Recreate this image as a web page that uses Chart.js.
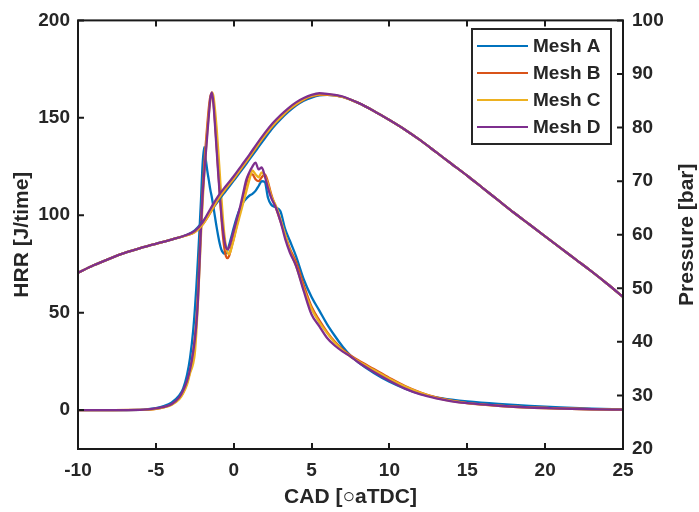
<!DOCTYPE html>
<html><head><meta charset="utf-8">
<script src="https://cdn.jsdelivr.net/npm/chart.js@4.4.0/dist/chart.umd.min.js"></script>
<style>html,body{margin:0;padding:0;background:#fff;}canvas{display:block;}</style>
</head><body>
<canvas id="c" width="699" height="512"></canvas>
<script>
const seriesNames = ['Mesh A', 'Mesh B', 'Mesh C', 'Mesh D'];
const seriesColors = ['#0072BD', '#D95319', '#EDB120', '#7E2F8E'];

const cadHRR = [-10,-8,-6,-5.5,-5,-4.5,-4,-3.5,-3.25,-3,-2.8,-2.6,-2.5,-2.4,-2.3,-2.2,-2.1,-2.0,-1.9,-1.8,-1.7,-1.6,-1.5,-1.4,-1.3,-1.2,-1.1,-1.0,-0.9,-0.8,-0.7,-0.6,-0.5,-0.4,-0.3,-0.2,-0.1,0,0.2,0.4,0.6,0.8,1.0,1.2,1.4,1.6,1.8,2.0,2.2,2.4,2.7,3.0,3.3,3.6,4.0,4.5,5,5.5,6,6.5,7,7.5,8,9,10,11,12,13,14,15,17,19,21,23,25];
const hrrA = [0,0,0.1,0.4,1.0,2.0,3.8,7.5,11,18,27,41,51,63,77,92,108,126,135,129,123,118,113,109,104,99,94,89.5,85.5,82.5,81,80.3,80.5,82,84.5,87.5,90.5,93.5,99,103.5,106.5,108.5,110,111,112.5,115,117.5,117,109,105.5,104,102,93,87,79,67,58,51,44,38,32.5,28,24.5,19,14.5,11,8.3,6.5,5.3,4.4,3.1,2.1,1.3,0.7,0.3];
const hrrB = [0,0,0.05,0.2,0.6,1.4,2.8,6,9,14,20,30,37,46,60,78,96,112,125,136,146,155,161,162.5,158,148,136,124,112,100,90,83,79,78,79,82,85,88,95,102,109,116,121,121,118.5,117.5,119.5,121,117,111,104,97,90,83,76,64,53,46,40,35,31,28,25.5,21,16.5,12.3,9,6.5,4.8,3.6,2.2,1.3,0.8,0.4,0.2];
const hrrC = [0,0,0.05,0.2,0.6,1.3,2.6,5.5,8.5,13,19,24,29,40,55,72,90,106,120,132,143,152,159,163,161,154,145,134,122,110,99,90,84,81,80,81.5,84.5,87.5,94,100,106,112,118,123,121,119.5,122,120,116,110,105,98,90,82,74,62,52,45,39.5,34.5,30.5,27.5,25,20.5,16,12,8.8,6.3,4.7,3.5,2.2,1.3,0.8,0.4,0.2];
const hrrD = [0,0,0.1,0.3,0.8,1.6,3,6.5,10,15,21,30,36,44,56,74,94,110,121,131,141,151,160,163,157,146,134,122,111,101,93,87,83.5,82.5,83.5,86,89,92,98,104,111,118,122,125,127,123.5,124.5,120,114,109,104,97,88,81,74,61,49,43,37,33,30,27.5,24.5,19.5,15,11,8,6,4.5,3.5,2.2,1.3,0.8,0.4,0.2];

const cadP = [-10,-9,-8,-7,-6,-5,-4,-3,-2.5,-2,-1.5,-1,-0.5,0,0.5,1,1.5,2,2.5,3,3.5,4,4.5,5,5.5,6,6.5,7,8,9,10,11,12,13,14,15,16,17,18,19,20,21,22,23,24,25];
const presA = [52.9,54.3,55.5,56.6,57.5,58.3,59.1,60.0,60.8,62.4,64.3,66.3,68.2,70.1,72.0,74.0,76.0,78.0,79.9,81.5,82.9,84.1,85.0,85.6,86.0,86.1,86.0,85.7,84.6,83.1,81.4,79.6,77.6,75.4,73.2,71.0,68.7,66.4,64.1,61.9,59.7,57.5,55.3,53.1,50.8,48.4];
const presB = [52.9,54.3,55.5,56.6,57.5,58.3,59.1,59.9,60.5,61.9,64.1,66.6,68.6,70.4,72.4,74.4,76.5,78.5,80.3,81.8,83.2,84.3,85.2,85.8,86.1,86.1,86.0,85.7,84.6,83.1,81.4,79.6,77.6,75.4,73.2,71.0,68.7,66.4,64.1,61.9,59.7,57.5,55.3,53.1,50.8,48.4];
const presC = [52.9,54.3,55.5,56.6,57.5,58.3,59.1,59.9,60.5,61.9,64.2,66.7,68.7,70.5,72.5,74.5,76.6,78.6,80.4,81.9,83.3,84.4,85.3,85.9,86.2,86.2,86.0,85.7,84.6,83.1,81.4,79.6,77.6,75.4,73.2,71.0,68.7,66.4,64.1,61.9,59.7,57.5,55.3,53.1,50.8,48.4];
const presD = [52.9,54.3,55.5,56.6,57.5,58.3,59.1,60.0,60.7,62.3,64.8,67.2,69.1,70.9,72.9,74.9,77.0,79.0,80.8,82.3,83.6,84.7,85.5,86.1,86.4,86.3,86.1,85.8,84.6,83.1,81.4,79.6,77.6,75.4,73.2,71.0,68.7,66.4,64.1,61.9,59.7,57.5,55.3,53.1,50.8,48.4];

const cadTicks = [-10, -5, 0, 5, 10, 15, 20, 25];
const hrrTicks = [0, 50, 100, 150, 200];
const presTicks = [20, 30, 40, 50, 60, 70, 80, 90, 100];

const xTitle = 'CAD [\u25CBaTDC]';
const yTitle = 'HRR [J/time]';
const y2Title = 'Pressure [bar]';

const TXT = '#262626';
const tickFont = {family: '"Liberation Sans", Arial, Helvetica, sans-serif', size: 19, weight: 'bold'};
const titleFontCss = 'bold 21px "Liberation Sans", Arial, Helvetica, sans-serif';
const legendFontCss = 'bold 19px "Liberation Sans", Arial, Helvetica, sans-serif';

const hrrSets = [hrrA, hrrB, hrrC, hrrD];
const presSets = [presA, presB, presC, presD];
const datasets = [];
hrrSets.forEach((ys, i) => {
  datasets.push({
    label: seriesNames[i], yAxisID: 'y', borderColor: seriesColors[i],
    data: cadHRR.map((x, k) => ({x: x, y: ys[k]})), order: 7 - i
  });
});
presSets.forEach((ys, i) => {
  datasets.push({
    label: seriesNames[i] + ' p', yAxisID: 'y1', borderColor: seriesColors[i],
    data: cadP.map((x, k) => ({x: x, y: ys[k]})), order: 3 - i
  });
});

const framePlugin = {
  id: 'frame',
  afterDraw(chart) {
    const ctx = chart.ctx;
    const a = chart.chartArea;
    const sx = chart.scales.x, sy = chart.scales.y, sy1 = chart.scales.y1;
    const TL = 6;
    ctx.save();
    ctx.strokeStyle = '#1a1a1a';
    ctx.lineWidth = 2;
    ctx.beginPath();
    cadTicks.forEach(v => {
      const px = Math.round(sx.getPixelForValue(v));
      ctx.moveTo(px, a.bottom); ctx.lineTo(px, a.bottom - TL);
      ctx.moveTo(px, a.top); ctx.lineTo(px, a.top + TL);
    });
    hrrTicks.forEach(v => {
      const py = sy.getPixelForValue(v);
      ctx.moveTo(a.left, py); ctx.lineTo(a.left + TL, py);
    });
    presTicks.forEach(v => {
      const py = sy1.getPixelForValue(v);
      ctx.moveTo(a.right, py); ctx.lineTo(a.right - TL, py);
    });
    ctx.stroke();
    ctx.strokeRect(a.left, a.top, a.right - a.left, a.bottom - a.top);

    ctx.fillStyle = TXT;
    ctx.font = titleFontCss;
    ctx.textAlign = 'center';
    ctx.textBaseline = 'middle';
    ctx.fillText(xTitle, (a.left + a.right) / 2, 497);
    const cy = (a.top + a.bottom) / 2;
    ctx.save(); ctx.translate(22, cy); ctx.rotate(-Math.PI / 2); ctx.fillText(yTitle, 0, 0); ctx.restore();
    ctx.save(); ctx.translate(687, cy); ctx.rotate(-Math.PI / 2); ctx.fillText(y2Title, 0, 0); ctx.restore();

    const bx = 472, by = 29, bw = 139, bh = 115;
    ctx.fillStyle = '#ffffff';
    ctx.fillRect(bx, by, bw, bh);
    ctx.strokeStyle = '#262626';
    ctx.lineWidth = 2;
    ctx.strokeRect(bx, by, bw, bh);
    ctx.font = legendFontCss;
    ctx.textAlign = 'left';
    ctx.textBaseline = 'middle';
    seriesNames.forEach((name, i) => {
      const ry = 46 + i * 27;
      ctx.strokeStyle = seriesColors[i];
      ctx.lineWidth = 2;
      ctx.beginPath(); ctx.moveTo(477, ry); ctx.lineTo(528, ry); ctx.stroke();
      ctx.fillStyle = TXT;
      ctx.fillText(name, 533, ry + 1);
    });
    ctx.restore();
  }
};

new Chart(document.getElementById('c'), {
  type: 'line',
  data: {datasets: datasets},
  options: {
    responsive: false, animation: false, devicePixelRatio: 1,
    layout: {padding: {top: 16, left: 0, right: 0, bottom: 0}},
    elements: {
      point: {radius: 0},
      line: {borderWidth: 2.3, fill: false, cubicInterpolationMode: 'monotone'}
    },
    plugins: {legend: {display: false}, tooltip: {enabled: false}},
    scales: {
      x: {
        type: 'linear', min: -10, max: 25,
        afterBuildTicks: s => { s.ticks = cadTicks.map(v => ({value: v})); },
        afterFit: s => { s.height = 63; },
        grid: {display: false, drawTicks: false}, border: {display: false},
        ticks: {font: tickFont, color: TXT, padding: 10, maxRotation: 0, autoSkip: false, callback: v => String(v)}
      },
      y: {
        type: 'linear', position: 'left', min: -20, max: 200,
        afterBuildTicks: s => { s.ticks = hrrTicks.map(v => ({value: v})); },
        afterFit: s => { s.width = 78; },
        grid: {display: false, drawTicks: false}, border: {display: false},
        ticks: {font: tickFont, color: TXT, padding: 8, callback: v => String(v)}
      },
      y1: {
        type: 'linear', position: 'right', min: 20, max: 100,
        afterBuildTicks: s => { s.ticks = presTicks.map(v => ({value: v})); },
        afterFit: s => { s.width = 76; },
        grid: {display: false, drawTicks: false}, border: {display: false},
        ticks: {font: tickFont, color: TXT, padding: 9, callback: v => String(v)}
      }
    }
  },
  plugins: [framePlugin]
});
</script>
</body></html>
